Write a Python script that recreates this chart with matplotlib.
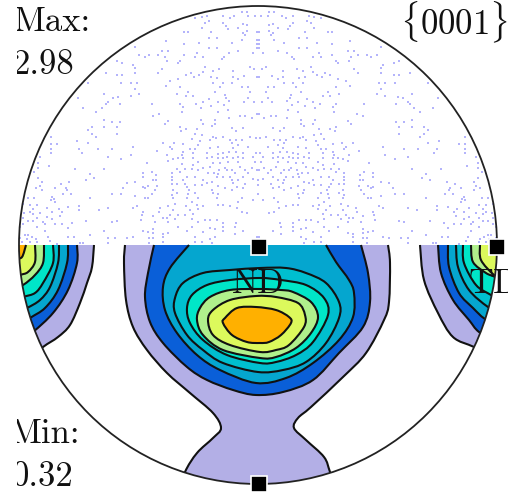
import numpy as np
import matplotlib
matplotlib.use('Agg')
import matplotlib.pyplot as plt
from matplotlib.path import Path
from matplotlib.patches import PathPatch, Circle
from matplotlib.transforms import Bbox, TransformedBbox

colors = ['#b3afe6', '#0a5fd8', '#05a6cf', '#00bfcf', '#00e6c8', '#b0f08c', '#dcf95c', '#ffb000']

# centre lobe, lowest level to highest
centre = [
    [(125,245),(124,263),(126,300),(133,327),(147,350),(167,373),(190,393),(213,413),(221,428),(213,438),(197,453),(185,472),(178,495),
     (338,495),(330,472),(324,457),(306,440),(294,428),(298,418),(311,407),(343,377),(366,353),(384,320),(389,302),(390,263),(388,245)],
    [(154,245),(148,273),(145,297),(150,322),(163,343),(187,367),(207,380),(233,390),(256,395),(283,392),(313,380),(339,353),(363,327),(370,302),(368,273),(361,245)],
    [(189,245),(170,268),(163,287),(165,310),(177,333),(197,355),(220,370),(256,383),(286,378),(313,363),(339,340),(353,317),(354,293),(349,280),(336,262),(326,245)],
    [(260,268),(230,270),(203,273),(183,283),(175,298),(175,313),(187,335),(203,350),(223,363),(258,372),(283,370),(306,362),(326,343),(339,318),(339,302),(326,283),(306,273),(286,268),(260,268)],
    [(260,278),(230,280),(207,285),(192,295),(187,308),(190,323),(203,340),(227,355),(260,363),(276,362),(296,355),(313,342),(328,315),(324,298),(306,285),(281,280),(260,278)],
    [(260,289),(230,290),(210,297),(200,308),(197,320),(203,335),(223,350),(260,358),(276,357),(296,348),(311,333),(318,317),(311,302),(293,292),(281,290),(260,289)],
    [(256,296),(230,300),(213,310),(208,320),(213,335),(230,345),(260,352),(276,350),(289,345),(304,327),(305,315),(298,303),(276,297),(256,296)],
    [(256,307),(237,308),(225,318),(223,323),(232,335),(247,342),(260,343),(269,342),(281,335),(291,323),(289,317),(276,310),(256,307)],
]

# left lobe, cut by the rim
left = [
    [(94,245),(92,267),(87,283),(80,303),(70,325),(58,337),(43,347),(25,362),(0,362),(0,245)],
    [(77,245),(77,263),(68,290),(53,313),(33,332),(15,345),(0,345),(0,245)],
    [(68,245),(67,263),(58,290),(45,308),(30,318),(12,330),(0,330),(0,245)],
    [(59,245),(58,263),(50,287),(40,300),(27,308),(10,316),(0,316),(0,245)],
    [(53,245),(53,263),(43,283),(35,293),(23,297),(8,302),(0,302),(0,245)],
    [(44,245),(43,263),(35,275),(23,285),(8,292),(0,292),(0,245)],
    [(35,245),(35,262),(28,272),(20,275),(5,280),(0,280),(0,245)],
    [(26,245),(22,257),(16,258),(0,258),(0,245)],
]

# right lobe, cut by the rim
right = [
    [(420,245),(424,280),(438,313),(453,337),(474,347),(495,358),(512,358),(512,245)],
    [(438,245),(441,273),(453,300),(469,320),(479,332),(500,345),(512,345),(512,245)],
    [(448,245),(449,267),(459,293),(473,308),(485,319),(505,330),(512,330),(512,245)],
    [(456,245),(458,267),(469,290),(488,307),(505,316),(512,316),(512,245)],
    [(463,245),(464,263),(476,285),(491,295),(505,303),(512,303),(512,245)],
    [(471,245),(473,262),(486,273),(495,277),(505,284),(512,284),(512,245)],
    [(480,245),(481,260),(494,275),(505,281),(512,281),(512,245)],
]

# poles of the scatter half, left side only, the other side is its mirror
poles = [
 (117,61),(122,63),(106,73),(117,75),(122,75),(88,83),(121,83),(78,98),(104,94),(118,97),(113,98),(108,102),(106,104),(120,104),(83,108),(102,108),(96,112),(104,120),(112,122),(120,122),
 (195,18),(202,17),(207,16),(205,23),(209,21),(223,16),(230,18),(234,16),(242,12),(247,12),(248,16),(255,16),(223,23),(226,26),(228,29),(202,28),(243,24),(247,25),(238,28),(247,31),(243,33),(245,35),(257,32),(184,32),(188,32),(211,32),(209,38),(217,38),(242,40),(257,40),(166,41),(199,43),(232,43),(257,44),(184,44),(135,47),(209,48),(217,48),(257,48),(162,51),(168,51),(197,53),(229,53),(238,51),(253,53),(139,55),(149,55),(145,57),(158,55),(165,57),(184,55),(195,57),(203,57),(224,57),(222,59),(167,61),(180,61),(178,63),(133,65),(135,68),(162,69),(205,67),(219,69),(250,67),(254,69),(135,73),(158,73),(191,73),(186,75),(203,72),(213,71),(233,71),(199,75),(194,77),(211,77),(217,78),(233,77),(238,79),(244,76),(257,77),(178,79),(170,81),(131,83),(137,83),(166,86),(223,83),(232,83),(213,83),(180,87),(135,89),(220,87),(242,87),(248,87),(188,92),(215,92),(250,92),(139,94),(177,94),(225,95),(186,96),(193,96),(131,96),(226,98),(209,99),(248,98),(244,102),(203,102),(152,104),(180,104),(196,104),(218,102),(229,101),(254,102),(183,107),(201,108),(211,106),(228,110),(182,112),(224,105),(153,116),(159,114),(218,112),(257,114),(240,116),(245,116),(229,118),(168,121),(201,120),(215,120),(252,118),(165,124),(203,124),(215,124),
 (88,130),(92,127),(104,127),(117,127),(92,134),(96,137),(117,134),(51,137),(77,141),(88,143),(51,144),(57,144),(51,149),(51,153),(79,149),(82,153),(98,149),(112,149),(108,157),(121,159),(40,157),(38,163),(49,166),(38,168),(34,172),(75,169),(104,169),(90,174),(38,178),(94,178),(86,180),(69,182),(42,182),(40,186),(61,184),(55,188),(36,188),(42,190),(66,188),(67,190),(127,183),(123,188),(63,194),(71,194),(112,194),(121,194),(52,197),(54,199),(51,200),(55,202),(90,198),(28,198),(34,198),(23,204),(30,205),(37,205),(33,209),(68,207),(79,206),(47,208),(52,212),(59,209),(62,212),(79,210),(99,210),(108,208),(30,212),(24,213),(33,214),(40,213),(47,217),(60,216),(23,218),(37,218),(28,221),(33,221),(43,222),(52,219),(72,223),(86,221),(112,222),(117,221),(23,224),(45,224),(55,224),(62,224),(20,227),(37,227),(68,228),(45,231),(104,231),(25,235),(28,235),(48,237),(32,237),(90,235),(20,238),(27,239),(36,239),(50,241),(68,237),(74,237),(108,238),(115,238),(127,238),(22,242),(30,242),(37,242),(80,243),(83,243),(57,244),(108,243),
 (180,127),(186,129),(181,131),(197,129),(212,126),(232,128),(243,128),(236,131),(195,134),(202,135),(213,137),(216,138),(223,137),(192,139),(200,141),(210,140),(230,140),(236,140),(242,140),(250,137),(256,138),(163,143),(174,143),(183,144),(198,145),(232,143),(238,145),(248,147),(133,147),(170,147),(190,149),(195,149),(218,147),(210,148),(233,148),(157,151),(172,149),(183,152),(193,153),(207,153),(218,154),(223,153),(229,152),(236,152),(243,153),(256,153),(131,155),(167,155),(182,155),(212,157),(227,157),(238,157),(253,157),(173,159),(178,158),(183,158),(193,158),(207,158),(218,158),(223,158),(233,158),(243,158),(168,161),(198,162),(213,163),(220,163),(228,162),(238,162),(255,162),(147,163),(182,164),(193,165),(210,167),(203,168),(225,168),(240,167),(252,168),(177,169),(185,169),(192,169),(198,170),(219,170),(227,170),(232,170),(245,170),(257,170),(143,173),(152,172),(172,173),(180,172),(208,173),(214,173),(218,174),(235,173),(248,173),(143,177),(156,175),(172,177),(187,177),(195,177),(217,177),(223,177),(230,177),(243,177),(253,179),(153,180),(172,180),(183,180),(203,180),(232,180),(238,180),(258,180),(135,182),(156,180),(185,184),(195,185),(207,183),(212,182),(233,183),(245,184),(172,184),(177,184),(143,187),(148,186),(157,186),(187,187),(202,185),(218,186),(237,187),(258,185),(145,188),(155,190),(173,190),(189,190),(212,190),(225,188),(232,190),(243,188),(177,193),(188,194),(152,194),(172,195),(195,193),(213,193),(218,194),(258,194),(135,196),(148,198),(187,198),(173,198),(198,198),(217,198),(242,198),(145,198),(192,202),(238,202),(253,200),(175,204),(197,205),(203,206),(223,205),(137,206),(133,208),(160,208),(168,206),(186,206),(230,206),(218,205),(159,212),(173,210),(198,209),(143,212),(190,210),(242,212),(247,213),(237,208),(142,215),(153,216),(170,215),(178,215),(193,214),(185,215),(163,218),(167,218),(141,220),(175,219),(192,219),(205,220),(210,220),(217,220),(155,222),(168,222),(198,222),(223,223),(236,223),(223,227),(178,227),(192,227),(210,228),(235,227),(215,229),(153,229),(143,231),(148,232),(187,231),(223,231),(243,231),(163,234),(168,233),(153,233),(203,232),(235,234),(195,237),(215,237),(257,237),(133,237),(163,237),(202,242),(149,238),(153,238),(210,239),(212,243),(149,243),(163,242),(195,242),
]

labels = [('Max:', 14, 31), ('2.98', 12, 74), ('Min:', 10, 443), ('0.32', 12, 486), ('ND', 232, 293), ('TD', 469, 293)]
axis_marks = [(258.5, 247), (497, 247), (258.5, 484)]
rim_centre = (258, 245)
rim_radius = 239


def smooth(points):
    # catmull-rom through the read points, as bezier path
    p = np.array(points, dtype=float)
    closed = np.allclose(p[0], p[-1])
    verts = [p[0]]
    codes = [Path.MOVETO]
    n = len(p)
    for i in range(n - 1):
        p0 = p[i - 1] if i > 0 else (p[-2] if closed else p[0])
        p1 = p[i]
        p2 = p[i + 1]
        p3 = p[i + 2] if i + 2 < n else (p[1] if closed else p[-1])
        verts += [p1 + (p2 - p0) / 6, p2 - (p3 - p1) / 6, p2]
        codes += [Path.CURVE4] * 3
    return Path(verts, codes)


fig = plt.figure(figsize=(5.12, 4.92), dpi=100)
ax = fig.add_axes([0, 0, 1, 1])
ax.set_xlim(0, 512)
ax.set_ylim(492, 0)
ax.axis('off')

rim_clip = Circle(rim_centre, rim_radius, transform=ax.transData)

pts = np.array(poles, dtype=float)
xs = np.concatenate([pts[:, 0], 2 * rim_centre[0] - pts[:, 0]])
ys = np.concatenate([pts[:, 1], pts[:, 1]])
dots = ax.scatter(xs, ys, s=2.4, marker='s', color='#b4b4fb', linewidths=0, zorder=1)
dots.set_clip_path(rim_clip)

# contour levels, fill then black line
for lobe in [left, right, centre]:
    for level, curve in enumerate(lobe):
        path = smooth(curve)
        fill = PathPatch(path, facecolor=colors[level], edgecolor='none', zorder=2 + level * 0.1)
        ax.add_patch(fill)
        fill.set_clip_path(rim_clip)
        line = PathPatch(path, facecolor='none', edgecolor='#111111', lw=1.5, zorder=2 + level * 0.1 + 0.05)
        ax.add_patch(line)
        line.set_clip_path(rim_clip)

ax.add_patch(Circle(rim_centre, rim_radius, facecolor='none', edgecolor='#222222', lw=1.3, zorder=4))

# labels run off the crop on the left and right
keep = TransformedBbox(Bbox([[17, 0], [508, 492]]), ax.transData)
for s, x, y in labels:
    t = ax.text(x, y, s, family='cmr10', fontsize=25, color='#111111', ha='left', va='baseline', zorder=5)
    t.set_clip_box(keep)
    t.set_clip_on(True)
ax.text(400, 35, r'$\{0001\}$', fontsize=25, math_fontfamily='cm', color='#111111', ha='left', va='baseline', zorder=5)

mx = [m[0] for m in axis_marks]
my = [m[1] for m in axis_marks]
ax.plot(mx, my, ls='none', marker='s', ms=11, mfc='black', mec='white', mew=1.2, zorder=6, clip_on=False)

fig.savefig('out.png', dpi=100)
